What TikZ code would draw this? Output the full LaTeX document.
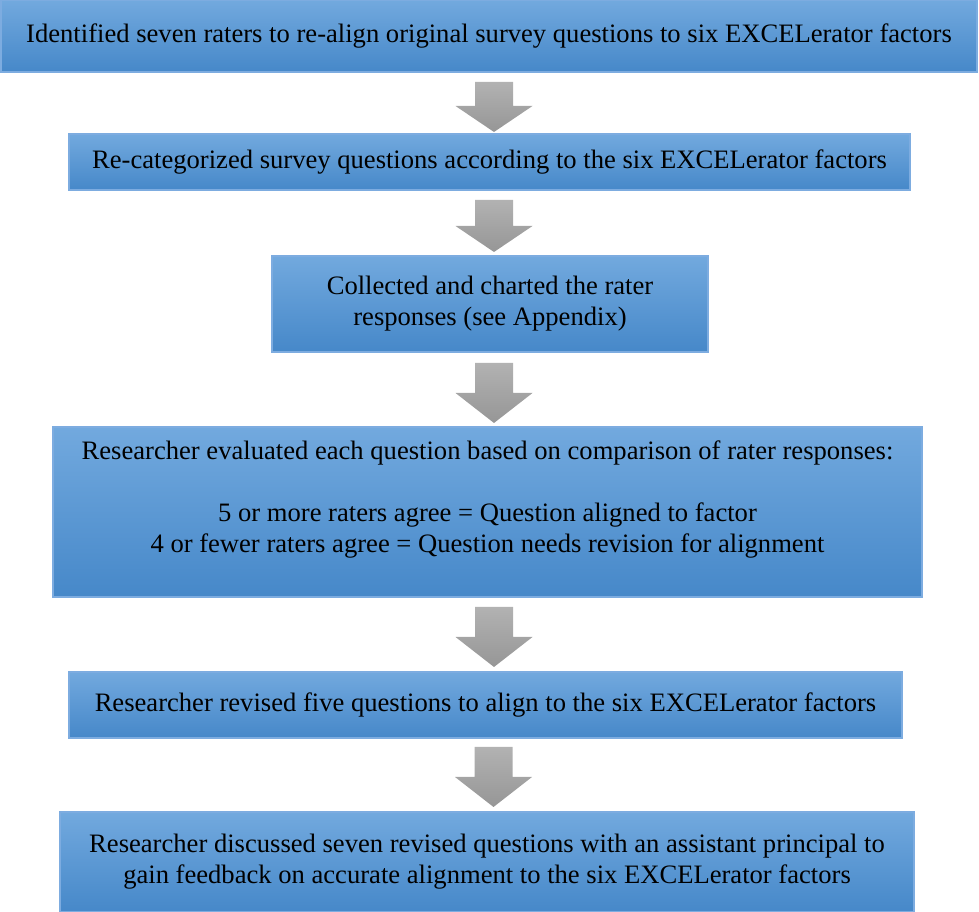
\documentclass[tikz,border=0pt]{standalone}
\usepackage{fontspec}
\setmainfont{Liberation Serif}
\definecolor{boxtop}{RGB}{114,169,222}
\definecolor{boxbot}{RGB}{70,136,201}
\definecolor{boxedge}{RGB}{125,172,224}
\definecolor{arrtop}{RGB}{178,178,178}
\definecolor{arrbot}{RGB}{150,150,150}
\tikzset{
  stepbox/.style={rectangle, draw=boxedge, line width=1.3pt, top color=boxtop, bottom color=boxbot,
    inner sep=0pt, align=center, font=\fontsize{26.6}{31}\selectfont, text=black},
  grayarrow/.style={top color=arrtop, bottom color=arrbot, draw=none}
}
\begin{document}
\begin{tikzpicture}[x=1pt,y=1pt]
\useasboundingbox (0,0) rectangle (979,912);
\node[stepbox, minimum width=976, minimum height=72] (b1) at (489,876)
  {Identified seven raters to re-align original survey questions to six EXCELerator factors};
\node[stepbox, minimum width=841, minimum height=56] (b2) at (489.5,750)
  {Re-categorized survey questions according to the six EXCELerator factors};
\node[stepbox, minimum width=436, minimum height=96] (b3) at (490,608)
  {Collected and charted the rater\\responses (see Appendix)};
\node[stepbox, minimum width=869, minimum height=170] (b4) at (487.5,400)
  {Researcher evaluated each question based on comparison of rater responses:\\[31pt]
   5 or more raters agree = Question aligned to factor\\
   4 or fewer raters agree = Question needs revision for alignment\\ \mbox{}};
\node[stepbox, minimum width=833, minimum height=66] (b5) at (485.5,207)
  {Researcher revised five questions to align to the six EXCELerator factors};
\node[stepbox, minimum width=854, minimum height=100] (b6) at (487,50)
  {Researcher discussed seven revised questions with an assistant principal to\\
   gain feedback on accurate alignment to the six EXCELerator factors};
% block arrows
\coordinate (a1) at (494,830);
\coordinate (a2) at (494,712);
\coordinate (a3) at (494,549);
\coordinate (a4) at (494,305);
\coordinate (a5) at (493.5,165);
\path[grayarrow] (a1) ++(-19,0) -- ++(38,0) -- ++(0,-24) -- ++(19.5,0) -- ++(-38.5,-26) -- ++(-38.5,26) -- ++(19.5,0) -- cycle;
\path[grayarrow] (a2) ++(-19,0) -- ++(38,0) -- ++(0,-26) -- ++(19.5,0) -- ++(-38.5,-26) -- ++(-38.5,26) -- ++(19.5,0) -- cycle;
\path[grayarrow] (a3) ++(-19,0) -- ++(38,0) -- ++(0,-30) -- ++(19.5,0) -- ++(-38.5,-30) -- ++(-38.5,30) -- ++(19.5,0) -- cycle;
\path[grayarrow] (a4) ++(-19,0) -- ++(38,0) -- ++(0,-30) -- ++(19.5,0) -- ++(-38.5,-30) -- ++(-38.5,30) -- ++(19.5,0) -- cycle;
\path[grayarrow] (a5) ++(-19,0) -- ++(38,0) -- ++(0,-30) -- ++(19.5,0) -- ++(-38.5,-30) -- ++(-38.5,30) -- ++(19.5,0) -- cycle;
\end{tikzpicture}
\end{document}
